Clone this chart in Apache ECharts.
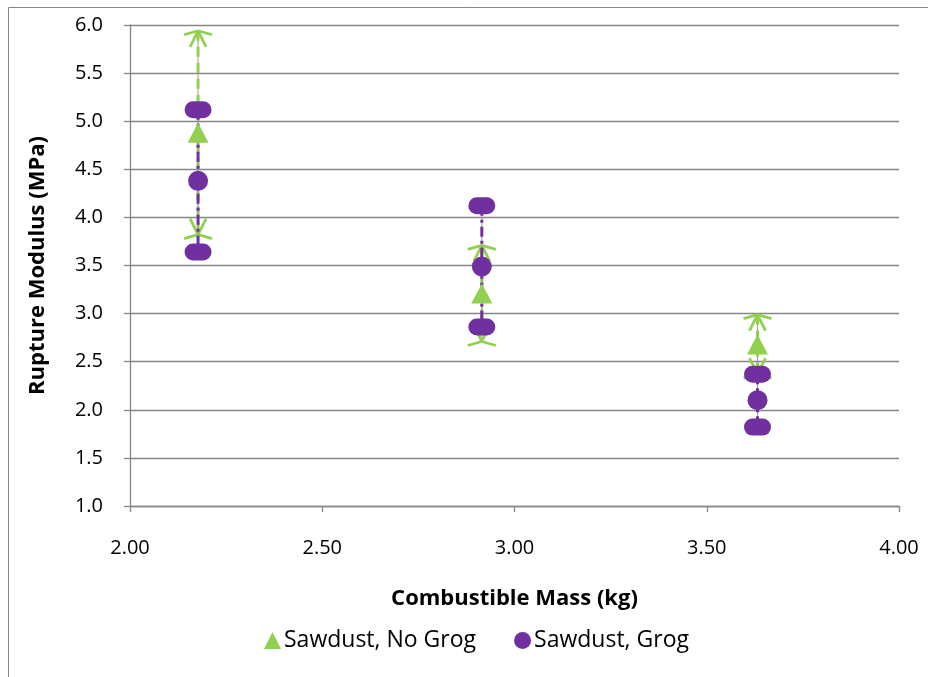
<!DOCTYPE html>
<html>
<head>
<meta charset="utf-8">
<script src="https://cdn.jsdelivr.net/npm/echarts@6/dist/echarts.min.js"></script>
<style>
  html, body { margin: 0; padding: 0; background: #ffffff; }
  #chart { width: 928px; height: 677px; }
</style>
</head>
<body>
<div id="chart"></div>
<script>
// Combustible mass (kg) of each batch
const massKg = [2.177, 2.915, 3.632];

// Sawdust, No Grog: mean rupture modulus and range (MPa)
const noGrogMean = [4.88, 3.21, 2.68];
const noGrogHigh = [5.94, 3.71, 2.99];
const noGrogLow  = [3.82, 2.71, 2.37];

// Sawdust, Grog: mean rupture modulus and range (MPa)
const grogMean = [4.38, 3.49, 2.10];
const grogHigh = [5.12, 4.12, 2.37];
const grogLow  = [3.64, 2.86, 1.82];

const GREEN = '#92D050';
const PURPLE = '#7030A0';
const GRID_GREY = '#868686';
const FONT = '"Open Sans", "Liberation Sans", sans-serif';

const chart = echarts.init(document.getElementById('chart'), null, { renderer: 'canvas' });

function rangeRows(lo, hi) {
  return massKg.map((x, i) => [x, lo[i], hi[i]]);
}
function meanRows(m) {
  return massKg.map((x, i) => [x, m[i]]);
}

// Vertical range bar with star-shaped ends (dir = +1 at the top end, -1 at the bottom end)
function greenBar(params, api) {
  const top = api.coord([api.value(0), api.value(2)]);
  const bot = api.coord([api.value(0), api.value(1)]);
  const x = top[0];
  const lineStyle = { stroke: GREEN, lineWidth: 2.8, fill: null };
  const star = (p, dir) => ([
    { type: 'line', shape: { x1: p[0] - 14, y1: p[1] + 4, x2: p[0], y2: p[1] }, style: lineStyle },
    { type: 'line', shape: { x1: p[0] + 14, y1: p[1] + 4, x2: p[0], y2: p[1] }, style: lineStyle },
    { type: 'line', shape: { x1: p[0] - 8, y1: p[1] + 16 * dir, x2: p[0], y2: p[1] }, style: lineStyle },
    { type: 'line', shape: { x1: p[0] + 8, y1: p[1] + 16 * dir, x2: p[0], y2: p[1] }, style: lineStyle }
  ]);
  return {
    type: 'group',
    children: [
      { type: 'line', shape: { x1: x, y1: top[1], x2: x, y2: bot[1] }, style: { stroke: '#9a9a9a', lineWidth: 1 } },
      { type: 'line', shape: { x1: x, y1: top[1], x2: x, y2: bot[1] }, style: { stroke: GREEN, lineWidth: 3, lineDash: [10, 6] } },
      ...star(top, 1),
      ...star(bot, -1)
    ]
  };
}

// Vertical range bar with rounded ends
function purpleBar(params, api) {
  const top = api.coord([api.value(0), api.value(2)]);
  const bot = api.coord([api.value(0), api.value(1)]);
  const x = top[0];
  const pill = (p) => ({
    type: 'rect',
    shape: { x: p[0] - 13.5, y: p[1] - 8.5, width: 27, height: 17, r: 8.5 },
    style: { fill: PURPLE }
  });
  return {
    type: 'group',
    children: [
      { type: 'line', shape: { x1: x, y1: top[1], x2: x, y2: bot[1] }, style: { stroke: '#9a9a9a', lineWidth: 1 } },
      { type: 'line', shape: { x1: x, y1: top[1], x2: x, y2: bot[1] }, style: { stroke: PURPLE, lineWidth: 3, lineDash: [10, 4, 3, 4] } },
      pill(top),
      pill(bot)
    ]
  };
}

const option = {
  backgroundColor: '#ffffff',
  animation: false,
  textStyle: { fontFamily: FONT },
  graphic: [
    {
      type: 'rect',
      shape: { x: 8.5, y: 7.5, width: 1200, height: 1200 },
      style: { fill: null, stroke: GRID_GREY, lineWidth: 1 },
      silent: true,
      z: -10
    }
  ],
  grid: { left: 130, right: 29, top: 25, bottom: 171 },
  xAxis: {
    type: 'value',
    min: 2,
    max: 4,
    interval: 0.5,
    name: 'Combustible Mass (kg)',
    nameLocation: 'middle',
    nameGap: 82,
    nameTextStyle: { fontFamily: FONT, fontSize: 22, fontWeight: 'bold', color: '#000' },
    axisLine: { show: true, lineStyle: { color: GRID_GREY, width: 1.3 } },
    axisTick: { show: true, length: 6, inside: false, lineStyle: { color: GRID_GREY, width: 1.3 } },
    axisLabel: { color: '#000', fontSize: 20, fontFamily: FONT, margin: 32, formatter: v => v.toFixed(2) },
    splitLine: { show: false }
  },
  yAxis: {
    type: 'value',
    min: 1,
    max: 6,
    interval: 0.5,
    name: 'Rupture Modulus (MPa)',
    nameLocation: 'middle',
    nameGap: 81,
    nameRotate: 90,
    nameTextStyle: { fontFamily: FONT, fontSize: 22, fontWeight: 'bold', color: '#000' },
    axisLine: { show: true, lineStyle: { color: GRID_GREY, width: 1.3 } },
    axisTick: { show: true, length: 6, inside: false, lineStyle: { color: GRID_GREY, width: 1.3 } },
    axisLabel: { color: '#000', fontSize: 20, fontFamily: FONT, margin: 27, formatter: v => v.toFixed(1) },
    splitLine: { show: true, lineStyle: { color: GRID_GREY, width: 1.3 } }
  },
  legend: {
    data: ['Sawdust, No Grog', 'Sawdust, Grog'],
    left: 259,
    top: 624,
    itemWidth: 17,
    itemHeight: 17,
    itemGap: 38,
    textStyle: { fontFamily: FONT, fontSize: 23, color: '#000', padding: [0, 0, 0, -2] }
  },
  series: [
    {
      name: 'noGrogRange',
      type: 'custom',
      renderItem: greenBar,
      data: rangeRows(noGrogLow, noGrogHigh),
      z: 2,
      silent: true
    },
    {
      name: 'grogRange',
      type: 'custom',
      renderItem: purpleBar,
      data: rangeRows(grogLow, grogHigh),
      z: 3,
      silent: true
    },
    {
      name: 'Sawdust, No Grog',
      type: 'scatter',
      symbol: 'triangle',
      symbolSize: [21, 20],
      itemStyle: { color: GREEN, opacity: 1 },
      data: meanRows(noGrogMean),
      z: 4
    },
    {
      name: 'Sawdust, Grog',
      type: 'scatter',
      symbol: 'circle',
      symbolSize: 20,
      itemStyle: { color: PURPLE, opacity: 1 },
      data: meanRows(grogMean),
      z: 5
    }
  ]
};

chart.setOption(option);
</script>
</body>
</html>
